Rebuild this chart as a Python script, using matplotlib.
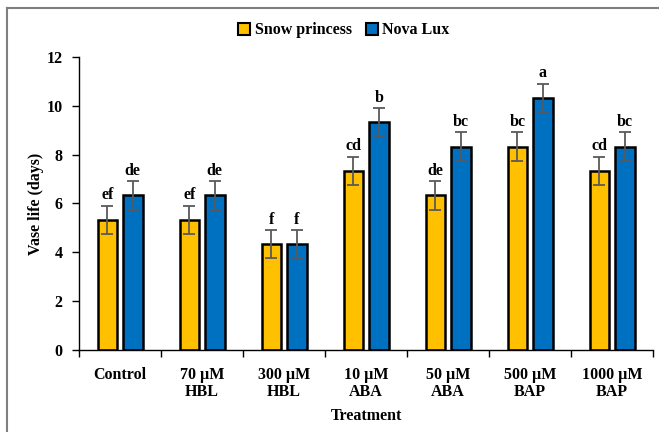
import matplotlib.pyplot as plt
import numpy as np
from matplotlib.lines import Line2D

plt.rcParams['font.family'] = ['Liberation Serif', 'DejaVu Serif']
plt.rcParams['font.weight'] = 'bold'

treatments = ["Control", "70 µM\nHBL", "300 µM\nHBL", "10 µM\nABA",
              "50 µM\nABA", "500 µM\nBAP", "1000 µM\nBAP"]
snow = [5.33, 5.33, 4.33, 7.33, 6.33, 8.33, 7.33]
nova = [6.33, 6.33, 4.33, 9.33, 8.33, 10.33, 8.33]
snow_err = [0.58] * 7
nova_err = [0.58] * 7
snow_letters = ["ef", "ef", "f", "cd", "de", "bc", "cd"]
nova_letters = ["de", "de", "f", "b", "bc", "a", "bc"]

yellow = "#FFC000"
blue = "#0070C0"
fs = 11.5

fig = plt.figure(figsize=(6.59, 4.32), dpi=100)
ax = fig.add_axes([0.12, 0.19, 0.871, 0.678])

x = np.arange(len(treatments))
w = 0.24
off = 0.155
ekw = dict(ecolor="#595959", elinewidth=1.3, capsize=4, capthick=1.3)
ax.bar(x - off, snow, w, color=yellow, edgecolor="black", linewidth=1.8,
       yerr=snow_err, error_kw=ekw, label="Snow princess", zorder=2)
ax.bar(x + off, nova, w, color=blue, edgecolor="black", linewidth=1.8,
       yerr=nova_err, error_kw=ekw, label="Nova Lux", zorder=2)

for i in range(len(x)):
    ax.text(x[i] - off, snow[i] + snow_err[i] + 0.1, snow_letters[i],
            ha="center", va="bottom", fontsize=fs, fontweight="bold")
    ax.text(x[i] + off, nova[i] + nova_err[i] + 0.1, nova_letters[i],
            ha="center", va="bottom", fontsize=fs, fontweight="bold")

ax.set_xlim(-0.5, len(x) - 0.5)
ax.set_ylim(0, 12)
ax.set_yticks(range(0, 13, 2))
ax.set_xticks(np.arange(-0.5, len(x), 1))
ax.set_xticklabels([])
ax.set_xticks(x, minor=True)
ax.set_xticklabels(treatments, minor=True, fontsize=fs, fontweight="bold",
                   linespacing=1.1)
ax.tick_params(axis="x", which="major", length=5, width=1, direction="out")
ax.tick_params(axis="x", which="minor", length=0, pad=12)
ax.tick_params(axis="y", length=5, width=1, labelsize=fs, pad=7)
for t in ax.get_yticklabels():
    t.set_fontweight("bold")

for s in ["top", "right"]:
    ax.spines[s].set_visible(False)
ax.spines["left"].set_linewidth(1)
ax.spines["bottom"].set_linewidth(1)

ax.set_ylabel("Vase life (days)", fontsize=fs, fontweight="bold", labelpad=2)
ax.set_xlabel("Treatment", fontsize=fs, fontweight="bold", labelpad=6)

handles = [Line2D([], [], marker="s", linestyle="", markersize=8,
                  markerfacecolor=c, markeredgecolor="black", markeredgewidth=1.5)
           for c in (yellow, blue)]
fig.legend(handles, ["Snow princess", "Nova Lux"], loc="center",
           bbox_to_anchor=(0.517, 0.93), ncol=2, frameon=False,
           fontsize=fs, handletextpad=-0.1, columnspacing=0.5,
           handlelength=1.5)

# thin gray frame along the top and left edges
fig.add_artist(Line2D([7 / 659, 7 / 659], [0, 1 - 8 / 432], color="#7f7f7f",
                      lw=1.5, transform=fig.transFigure))
fig.add_artist(Line2D([7 / 659, 1], [1 - 8 / 432, 1 - 8 / 432], color="#7f7f7f",
                      lw=1.5, transform=fig.transFigure))

fig.savefig("out.png", dpi=100)
